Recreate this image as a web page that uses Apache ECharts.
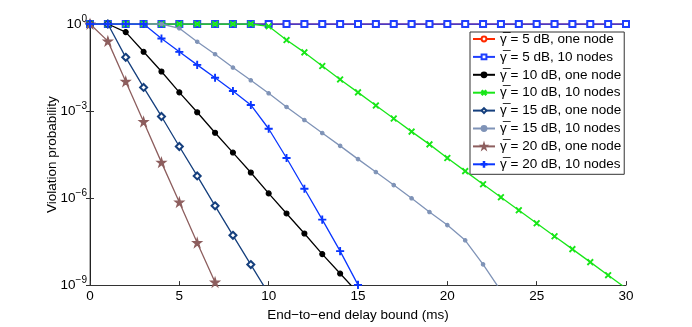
<!DOCTYPE html>
<html>
<head>
<meta charset="utf-8">
<script src="https://cdn.jsdelivr.net/npm/echarts@6/dist/echarts.min.js"></script>
<style>
html,body{margin:0;padding:0;background:#fff;}
#chart{width:692px;height:327px;}
</style>
</head>
<body>
<div id="chart"></div>
<script>
// End-to-end delay bound (ms)
const delays = [0,1,2,3,4,5,6,7,8,9,10,11,12,13,14,15,16,17,18,19,20,21,22,23,24,25,26,27,28,29,30];

const names = [
  "\u03B3\u0305 = 5 dB, one node",
  "\u03B3\u0305 = 5 dB, 10 nodes",
  "\u03B3\u0305 = 10 dB, one node",
  "\u03B3\u0305 = 10 dB, 10 nodes",
  "\u03B3\u0305 = 15 dB, one node",
  "\u03B3\u0305 = 15 dB, 10 nodes",
  "\u03B3\u0305 = 20 dB, one node",
  "\u03B3\u0305 = 20 dB, 10 nodes"
];

// Violation probability per series (index = delay in ms)
const snr5One = [1,1,1,1,1,1,1,1,1,1,1,1,1,1,1,1,1,1,1,1,1,1,1,1,1,1,1,1,1,1,1];
const snr5Ten = [1,1,1,1,1,1,1,1,1,1,1,1,1,1,1,1,1,1,1,1,1,1,1,1,1,1,1,1,1,1,1];
const snr10One = [1,1,0.525,0.11,0.023,4.4e-3,9.1e-4,1.78e-4,3.7e-5,7.6e-6,1.45e-6,2.95e-7,6.0e-8,1.17e-8,2.5e-9,5.4e-10];
const snr10Ten = [1,1,1,1,1,1,1,1,1,1,0.83,0.279,0.105,0.0355,0.0123,4.4e-3,1.55e-3,5.5e-4,1.95e-4,7.1e-5,2.4e-5,8.5e-6,3.0e-6,1.07e-6,3.8e-7,1.35e-7,4.8e-8,1.74e-8,6.2e-9,2.2e-9,7.8e-10];
const snr15One = [1,1,0.071,6.5e-3,6.5e-4,6.0e-5,5.8e-6,5.4e-7,5.2e-8,5.1e-9,5.0e-10];
const snr15Ten = [1,1,1,1,1,0.71,0.245,0.091,0.0316,0.0115,4.1e-3,1.38e-3,4.9e-4,1.74e-4,6.3e-5,2.2e-5,7.9e-6,2.8e-6,9.8e-7,3.3e-7,1.17e-7,3.5e-8,5.2e-9,6.3e-10];
const snr20One = [1,0.257,0.0105,4.3e-4,1.7e-5,7.2e-7,2.9e-8,1.26e-9];
const snr20Ten = [1,1,1,1,0.316,0.11,0.039,0.0141,4.9e-3,1.62e-3,2.45e-4,2.4e-5,2.1e-6,1.8e-7,1.48e-8,1.02e-9];

const PLUS = 'path://M4.45,0h1.1v4.45h4.45v1.1h-4.45v4.45h-1.1v-4.45h-4.45v-1.1h4.45z';
const STAR = 'path://M50,0L61,35L98,35L68,57L79,91L50,70L21,91L32,57L2,35L39,35Z';

const styles = [
  {color:'#ff2a00', symbol:'emptyCircle', size:6},
  {color:'#1f3fff', symbol:'emptyRect', size:6},
  {color:'#000000', symbol:'circle', size:5},
  {color:'#19e619', symbol:PLUS, size:7, rotate:45},
  {color:'#153f7d', symbol:'emptyDiamond', size:7},
  {color:'#7f93b7', symbol:'circle', size:3.5},
  {color:'#8d5e5e', symbol:STAR, size:9},
  {color:'#0a36ff', symbol:PLUS, size:7}
];
const dataSets = [snr5One, snr5Ten, snr10One, snr10Ten, snr15One, snr15Ten, snr20One, snr20Ten];

const series = dataSets.map((arr, k) => ({
  name: names[k],
  type: 'line',
  xAxisIndex: 0,
  yAxisIndex: 0,
  data: arr.map((v, i) => [delays[i], v]),
  symbol: styles[k].symbol,
  symbolSize: styles[k].size,
  symbolRotate: styles[k].rotate || 0,
  showAllSymbol: true,
  clip: true,
  lineStyle: {color: styles[k].color, width: 1.3},
  itemStyle: {color: styles[k].color, borderColor: styles[k].color, borderWidth: 1.1},
  emphasis: {disabled: true},
  z: 2 + k
}));

const chart = echarts.init(document.getElementById('chart'), null, {renderer: 'canvas'});
const FONT = '"Liberation Sans", Arial, sans-serif';

chart.setOption({
  animation: false,
  backgroundColor: '#ffffff',
  grid: {left: 90, right: 66, top: 24, bottom: 37, containLabel: false},
  legend: {
    orient: 'vertical',
    left: 470,
    top: 32,
    padding: [0, 3, 3, 2],
    itemWidth: 22,
    itemHeight: 6,
    itemGap: 3.9,
    borderColor: '#333',
    borderWidth: 1,
    backgroundColor: '#ffffff',
    textStyle: {fontFamily: FONT, fontSize: 13.5, color: '#000', lineHeight: 14},
    data: names
  },
  xAxis: [
    {
      type: 'value', position: 'bottom', min: 0, max: 30, interval: 5,
      name: 'End\u2212to\u2212end delay bound (ms)', nameLocation: 'middle', nameGap: 15,
      nameTextStyle: {fontFamily: FONT, fontSize: 13.5, color: '#000'},
      axisLine: {show: true, lineStyle: {color: '#333', width: 1}},
      axisTick: {show: true, inside: true, length: 4, lineStyle: {color: '#333'}},
      axisLabel: {fontFamily: FONT, fontSize: 13.5, color: '#000', margin: 4},
      splitLine: {show: false}
    },
    {
      type: 'value', position: 'top', min: 0, max: 30, interval: 5,
      axisLine: {show: true, lineStyle: {color: '#333', width: 1}},
      axisTick: {show: true, inside: true, length: 4, lineStyle: {color: '#333'}},
      axisLabel: {show: false},
      splitLine: {show: false}
    }
  ],
  yAxis: [
    {
      type: 'log', logBase: 10, position: 'left', min: 1e-9, max: 1, interval: 3,
      name: 'Violation probability', nameLocation: 'middle', nameGap: 31,
      nameMoveOverlap: false,
      nameTextStyle: {fontFamily: FONT, fontSize: 13.5, color: '#000'},
      axisLine: {show: true, lineStyle: {color: '#999', width: 1.5}},
      axisTick: {show: true, inside: true, length: 4, lineStyle: {color: '#333'}},
      axisLabel: {
        margin: 3,
        formatter: function (v) {
          const e = Math.round(Math.log10(v));
          return '{b|10}{s|' + (e === 0 ? '0' : '\u2212' + (-e)) + '}';
        },
        rich: {
          b: {fontFamily: FONT, fontSize: 13.5, color: '#000'},
          s: {fontFamily: FONT, fontSize: 10, color: '#000', padding: [0, 0, 10, 0]}
        }
      },
      splitLine: {show: false}
    },
    {
      type: 'log', logBase: 10, position: 'right', min: 1e-9, max: 1, interval: 3,
      axisLine: {show: true, lineStyle: {color: '#222', width: 1}},
      axisTick: {show: true, inside: true, length: 4, lineStyle: {color: '#333'}},
      axisLabel: {show: false},
      splitLine: {show: false}
    }
  ],
  series: series
});
</script>
</body>
</html>
